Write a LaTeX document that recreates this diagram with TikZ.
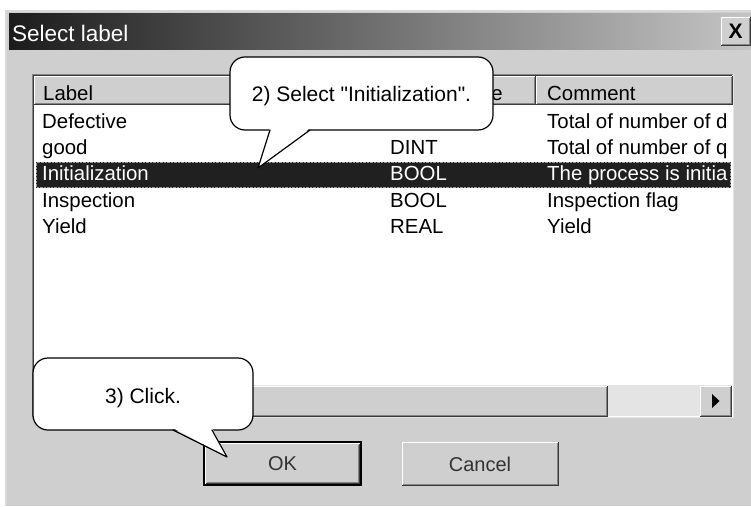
\documentclass[tikz,border=0pt]{standalone}
\usepackage{fontspec}
\setmainfont{Liberation Sans}
\usetikzlibrary{positioning}

\definecolor{dlggray}{HTML}{CFCFCF}
\definecolor{selrow}{HTML}{202020}
\definecolor{edgegray}{HTML}{858585}
\definecolor{edgedark}{HTML}{3A3A3A}
\definecolor{trough}{HTML}{E4E4E4}
\definecolor{titledark}{HTML}{1C1C1C}

% raised 3D frame: x1,y1 (top left), x2,y2 (bottom right), in pixels
\newcommand{\winbevel}[4]{%
	\draw[white, line width=1pt] (#1,#4) -- (#1,#2) -- (#3,#2);
	\draw[edgedark, line width=1pt] (#1,#4) -- (#3,#4) -- (#3,#2);
	\draw[edgegray, line width=1pt] (#1+1,#4-1) -- (#3-1,#4-1) -- (#3-1,#2+1);}

\begin{document}
\begin{tikzpicture}[x=1pt,y=-1pt,
	item/.style={anchor=base west, inner sep=0pt, font=\fontsize{20.4}{24}\selectfont, text=black},
	selitem/.style={item, text=white},
	btnlabel/.style={inner sep=0pt, font=\fontsize{20}{24}\selectfont, text=black!80},
	notebox/.style={draw=black, fill=white, line width=1.2pt, rounded corners=15pt, inner sep=0pt, text depth=0pt, font=\fontsize{21}{25}\selectfont},
	tail/.style={draw=black, line width=1.2pt, line join=round, line cap=round}]
	
	\useasboundingbox (0,0) rectangle (751,506);
	
	%Dialog frame
	\fill[white] (0,0) rectangle (751,506);
	\fill[dlggray] (5,10) rectangle (751,506);
	\draw[white!85!black, line width=1.5pt] (5.75,506) -- (5.75,10.75) -- (751,10.75);
	
	%Title bar
	\shade[left color=titledark, right color=dlggray!95!black] (9,13) rectangle (751,49);
	\node[anchor=base west, inner sep=0pt, text=white, font=\fontsize{22.5}{27}\selectfont] (title) at (12,41) {Select label};
	\fill[dlggray] (721,17) rectangle (750,45);
	\winbevel{721}{17}{750}{45}
	\node[inner sep=0pt, font=\fontsize{21}{24}\selectfont\bfseries] (closex) at (735.5,31.5) {X};
	
	%List box
	\fill[white] (33,74) rectangle (733,417);
	\draw[edgegray, line width=1pt] (32.5,417) -- (32.5,74.5) -- (733,74.5);
	\draw[edgedark, line width=1pt] (33.5,416) -- (33.5,75.5) -- (732,75.5);
	\draw[white!90!black, line width=1pt] (33,417.5) -- (733.5,417.5) -- (733.5,74);
	
	%Header
	\fill[dlggray] (34,76) rectangle (732,104);
	\winbevel{34}{76}{385}{104}
	\winbevel{385}{76}{535}{104}
	\winbevel{536}{76}{732}{104}
	
	\begin{scope}
		\clip (34,76) rectangle (731,385);
		\node[item] (hlabel) at (43,100) {Label};
		\node[item, anchor=base east] (htype) at (503,100) {e};
		\node[item] (hcomment) at (547,100) {Comment};
		
		%Rows
		\node[item] (r1label) at (42,128) {Defective};
		\node[item] (r1comment) at (547,128) {Total of number of d};
		\node[item] (r2label) at (42,154) {good};
		\node[item] (r2type) at (390,154) {DINT};
		\node[item] (r2comment) at (547,154) {Total of number of q};
		
		\fill[selrow] (36,162) rectangle (731,188);
		\draw[white!60!black, densely dotted] (36.5,162.5) rectangle (730.5,187.5);
		\node[selitem] (r3label) at (42,180.5) {Initialization};
		\node[selitem] (r3type) at (390,180.5) {BOOL};
		\node[selitem] (r3comment) at (547,180.5) {The process is initia};
		
		\node[item] (r4label) at (42,207) {Inspection};
		\node[item] (r4type) at (390,207) {BOOL};
		\node[item] (r4comment) at (547,207) {Inspection flag};
		\node[item] (r5label) at (42,233.5) {Yield};
		\node[item] (r5type) at (390,233.5) {REAL};
		\node[item] (r5comment) at (547,233.5) {Yield};
	\end{scope}
	
	%Scroll bar
	\fill[trough] (34,385) rectangle (732,416);
	\fill[dlggray] (34,386) rectangle (607,416);
	\winbevel{34}{386}{607}{416}
	\fill[dlggray] (700,386) rectangle (731,416);
	\winbevel{700}{386}{731}{416}
	\fill[black] (712,394) -- (712,408) -- (719.5,401) -- cycle;
	
	%Buttons
	\draw[black, line width=1.5pt] (204,442) rectangle (361,485);
	\winbevel{205.5}{443.5}{359.5}{483.5}
	\node[btnlabel] (okbtn) at (282.5,464) {OK};
	\winbevel{402}{442}{558}{485}
	\node[btnlabel] (cancelbtn) at (480,464) {Cancel};
	
	%Callout: select
	\node[notebox, text height=15pt, minimum width=263pt, minimum height=73pt] (selnote) at (361.5,93.5) {2) Select \textquotedbl Initialization\textquotedbl.};
	\coordinate (seltip) at (258,168);
	\fill[white] (270,128) -- (seltip) -- (310,128) -- cycle;
	\draw[tail] (270,130) -- (seltip) -- (310,130);
	
	%Callout: click
	\node[notebox, text height=18pt, minimum width=220pt, minimum height=72pt] (clicknote) at (143,394) {3) Click.};
	\coordinate (clicktip) at (227,457);
	\fill[white] (173,428) -- (clicktip) -- (212,428) -- cycle;
	\draw[tail] (173,430) -- (clicktip) -- (212,430);
	
\end{tikzpicture}
\end{document}
